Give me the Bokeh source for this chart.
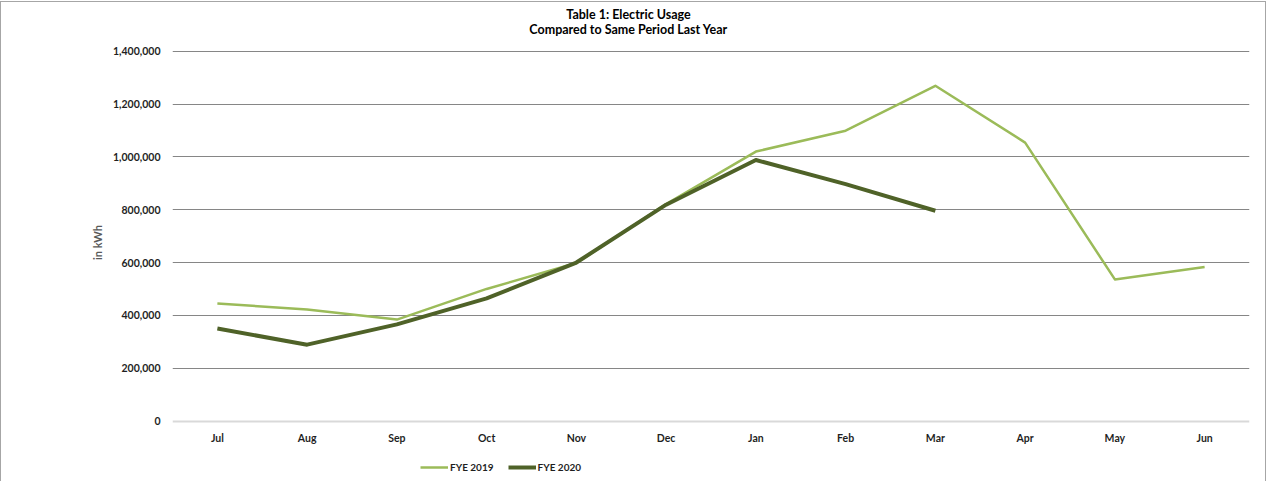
from bokeh.plotting import figure
from bokeh.models import (FixedTicker, NumeralTickFormatter, Label, Legend, LegendItem)
from bokeh.embed import file_html
from bokeh.resources import INLINE

# Monthly electric usage (kWh), fiscal year Jul-Jun
months = ["Jul", "Aug", "Sep", "Oct", "Nov", "Dec", "Jan", "Feb", "Mar", "Apr", "May", "Jun"]
fye2019 = [445000, 422000, 384000, 500000, 598000, 821000, 1020000, 1099000, 1269000, 1054000, 536000, 583000]
fye2020 = [350000, 289000, 366000, 464000, 600000, 819000, 988000, 897000, 796000]
y_ticks = [0, 200000, 400000, 600000, 800000, 1000000, 1200000, 1400000]

FONT = "Lato"
LIGHT = "#9bbb59"
DARK = "#4f6228"

# The frame fills the canvas vertically; the visible value scale runs 0..1.4M and
# the extra range above/below leaves room for the title, month labels and legend.
p = figure(
    x_range=months, y_range=(-232800, 1584400),
    width=1266, height=480, title=None,
    output_backend="svg", toolbar_location=None,
    min_border_left=171, min_border_right=18,
    min_border_top=0, min_border_bottom=0,
    outline_line_color=None,
)
p.styles = {
    "border-left": "1px solid #a6a6a6",
    "border-right": "1px solid #a6a6a6",
    "border-top": "1px solid #a6a6a6",
    "margin-top": "1px",
}

r19 = p.line(months, fye2019, line_color=LIGHT, line_width=2.5, line_join="round")
r20 = p.line(months[:len(fye2020)], fye2020, line_color=DARK, line_width=4, line_join="round")

# Value axis
p.yaxis.ticker = FixedTicker(ticks=y_ticks)
p.yaxis.formatter = NumeralTickFormatter(format="0,0")
p.yaxis.axis_line_color = None
p.yaxis.major_tick_line_color = None
p.yaxis.minor_tick_line_color = None
p.yaxis.major_label_standoff = 6
p.yaxis.axis_label = "in kWh"
p.yaxis.axis_label_standoff = 6
p.yaxis.axis_label_text_font = FONT
p.yaxis.axis_label_text_font_style = "bold"
p.yaxis.axis_label_text_font_size = "11px"
p.yaxis.axis_label_text_color = "#595959"

# Month axis, pinned to the zero line
p.xaxis.fixed_location = 0
p.xaxis.axis_line_color = "#d9d9d9"
p.xaxis.axis_line_width = 2
p.xaxis.major_tick_line_color = None
p.xaxis.minor_tick_line_color = None
p.xaxis.major_label_standoff = 5

for ax in (p.xaxis, p.yaxis):
    ax.major_label_text_font = FONT
    ax.major_label_text_font_style = "bold"
    ax.major_label_text_font_size = "10.5px"
    ax.major_label_text_color = "#1f1f1f"

p.xgrid.grid_line_color = None
p.ygrid.ticker = FixedTicker(ticks=y_ticks[1:])
p.ygrid.grid_line_color = "#868686"
p.ygrid.grid_line_width = 1

# Two-line title
for txt, yy in (("Table 1: Electric Usage", 468.5), ("Compared to Same Period Last Year", 453)):
    p.add_layout(Label(x=456, y=yy, x_units="screen", y_units="screen", text=txt,
                       text_align="center", text_baseline="middle",
                       text_font=FONT, text_font_style="bold",
                       text_font_size="12.5px", text_color="#000000"))

legend = Legend(
    items=[LegendItem(label="FYE 2019", renderers=[r19]),
           LegendItem(label="FYE 2020", renderers=[r20])],
    orientation="horizontal", location=(248, 9),
    glyph_width=28, glyph_height=10, label_standoff=2, spacing=14,
    padding=0, margin=0, border_line_color=None, background_fill_alpha=0,
    label_text_font=FONT, label_text_font_style="bold",
    label_text_font_size="10px", label_text_color="#1f1f1f",
)
p.add_layout(legend)

open("out.html", "w").write(file_html(p, INLINE))
